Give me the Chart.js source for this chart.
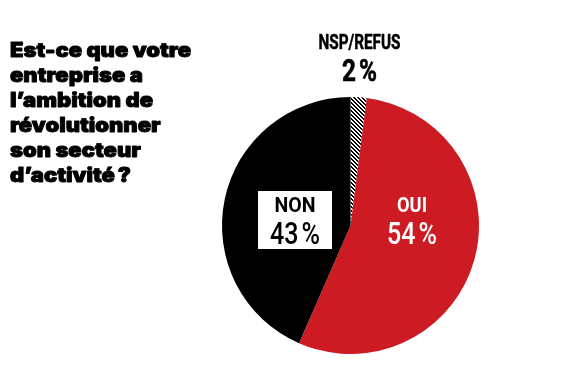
<!DOCTYPE html>
<html>
<head>
<meta charset="utf-8">
<script src="https://cdn.jsdelivr.net/npm/chart.js@4/dist/chart.umd.min.js"></script>
<style>
  html, body { margin: 0; padding: 0; background: #ffffff; }
  #wrap { width: 570px; height: 380px; position: relative; }
</style>
</head>
<body>
<div id="wrap"><canvas id="c" width="570" height="380"></canvas></div>
<script>
// ---- data ----
const categories = ['NSP/REFUS', 'OUI', 'NON'];
const values = [2, 54, 43];
const titleLines = ['Est-ce que votre', 'entreprise a', 'l\u2019ambition de', 'révolutionner', 'son secteur', 'd\u2019activité\u202f?'];

// ---- styles ----
const RED = '#cc1b23';

function makeHatch() {
  const t = document.createElement('canvas');
  t.width = 4; t.height = 4;
  const g = t.getContext('2d');
  const img = g.createImageData(4, 4);
  for (let y = 0; y < 4; y++) {
    for (let x = 0; x < 4; x++) {
      const k = ((x - y) % 4 + 4) % 4;
      const v = (k === 0 || k === 1) ? 0 : 255;
      const i = (y * 4 + x) * 4;
      img.data[i] = v; img.data[i + 1] = v; img.data[i + 2] = v; img.data[i + 3] = 255;
    }
  }
  g.putImageData(img, 0, 0);
  return document.getElementById('c').getContext('2d').createPattern(t, 'repeat');
}

const COND = '"Roboto", "Liberation Sans", sans-serif';
const TITLE_FONT = '900 20px "Inter", "Roboto", sans-serif';

function drawFit(ctx, text, x, y, size, weight, family, width, color, align, stroke) {
  ctx.save();
  ctx.font = weight + ' ' + size + 'px ' + family;
  const w = ctx.measureText(text).width;
  const sx = width ? width / w : 1;
  ctx.fillStyle = color;
  ctx.strokeStyle = color;
  ctx.textBaseline = 'alphabetic';
  ctx.textAlign = 'left';
  let left = x;
  if (align === 'center') left = x - (w * sx) / 2;
  ctx.translate(left, y);
  ctx.scale(sx, 1);
  ctx.fillText(text, 0, 0);
  if (stroke) { ctx.lineWidth = stroke; ctx.lineJoin = 'round'; ctx.strokeText(text, 0, 0); }
  ctx.restore();
}

const labelPlugin = {
  id: 'labels',
  afterDraw(chart) {
    const ctx = chart.ctx;
    const meta = chart.getDatasetMeta(0);
    const arc = meta.data[0];
    const cx = arc.x, cy = arc.y, r = arc.outerRadius;

    // Title
    ctx.save();
    ctx.font = TITLE_FONT;
    const w0 = ctx.measureText(titleLines[0]).width;
    ctx.restore();
    const sx = 181 / w0;
    titleLines.forEach((line, i) => {
      ctx.save();
      ctx.font = TITLE_FONT;
      ctx.fillStyle = '#000';
      ctx.strokeStyle = '#000';
      ctx.lineWidth = 0.9;
      ctx.lineJoin = 'round';
      ctx.translate(10, 57 + i * 25);
      ctx.scale(sx, 1);
      ctx.fillText(line, 0, 0);
      ctx.strokeText(line, 0, 0);
      ctx.restore();
    });

    // NSP/REFUS above the pie
    drawFit(ctx, categories[0], cx + 9, cy - r - 48, 21, '700', COND, 82, '#000', 'center', 0.5);
    drawFit(ctx, values[0] + '\u202f%', cx + 9, cy - r - 16, 32, '700', COND, 35, '#000', 'center', 0.6);

    // NON box
    const bx = cx - 92.5, by = cy - 34.5, bw = 74, bh = 58;
    ctx.save();
    ctx.fillStyle = '#fff';
    ctx.fillRect(bx, by, bw, bh);
    ctx.restore();
    drawFit(ctx, categories[2], cx - 55.5, cy - 13.5, 21, '700', COND, 41, '#000', 'center');
    drawFit(ctx, values[2] + '\u202f%', cx - 55.5, cy + 18.5, 31, '500', COND, 50, '#000', 'center');

    // OUI
    drawFit(ctx, categories[1], cx + 61.5, cy - 13.5, 21, '700', COND, 30, '#fff', 'center');
    drawFit(ctx, values[1] + '\u202f%', cx + 61.5, cy + 18.5, 31, '500', COND, 50, '#fff', 'center');
  }
};

const hatch = makeHatch();

new Chart(document.getElementById('c'), {
  type: 'pie',
  data: {
    labels: categories,
    datasets: [{
      data: values,
      backgroundColor: [hatch, RED, '#000000'],
      borderWidth: 0,
      hoverOffset: 0
    }]
  },
  options: {
    responsive: false,
    animation: false,
    rotation: 0,
    layout: { padding: { left: 222, right: 91, top: 96, bottom: 25 } },
    plugins: {
      legend: { display: false },
      tooltip: { enabled: false },
      title: { display: false }
    }
  },
  plugins: [labelPlugin]
});
</script>
</body>
</html>
